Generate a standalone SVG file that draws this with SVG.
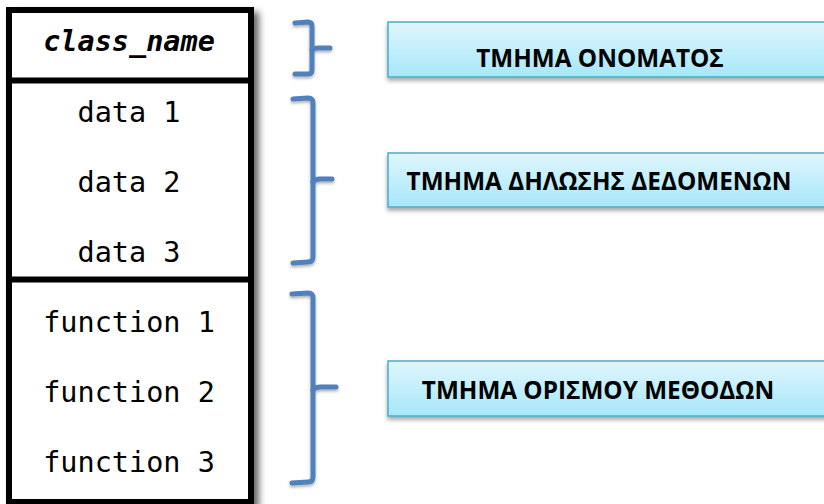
<svg xmlns="http://www.w3.org/2000/svg" width="824" height="504" viewBox="0 0 824 504">
<defs>
<linearGradient id="lbl" x1="0" y1="0" x2="0" y2="1">
<stop offset="0" stop-color="#e0f6fd"/>
<stop offset="1" stop-color="#a6e7fa"/>
</linearGradient>
<filter id="sh" x="-10%" y="-20%" width="120%" height="160%">
<feDropShadow dx="0" dy="3" stdDeviation="2" flood-color="#000" flood-opacity="0.35"/>
</filter>
<filter id="bsh" x="-10%" y="-10%" width="130%" height="130%">
<feDropShadow dx="5" dy="5" stdDeviation="3.5" flood-color="#000" flood-opacity="0.6"/>
</filter>
<filter id="brsh" x="-50%" y="-10%" width="200%" height="130%">
<feDropShadow dx="0" dy="2" stdDeviation="1.5" flood-color="#000" flood-opacity="0.3"/>
</filter>
</defs>
<style>
.mono{font-family:"DejaVu Sans Mono","Liberation Mono",monospace;font-size:28.5px;fill:#000;text-anchor:middle}
.cls{font-style:italic;font-weight:bold}
.lbl{fill:url(#lbl);stroke:#4bacc6;stroke-width:1.5}
.lt{font-family:"Open Sans","Liberation Sans",sans-serif;font-weight:bold;font-size:24.3px;fill:#000;text-anchor:middle}
.brace{fill:none;stroke:#4f81bd;stroke-width:5;stroke-linecap:round;stroke-linejoin:round}
</style>
<rect width="824" height="504" fill="#fff"/>
<g id="class-box">
<rect x="9" y="10" width="242" height="492" fill="#fff" stroke="#000" stroke-width="6" filter="url(#bsh)"/>
<line x1="9" y1="80.5" x2="251" y2="80.5" stroke="#000" stroke-width="6"/>
<line x1="9" y1="279.5" x2="251" y2="279.5" stroke="#000" stroke-width="6"/>
<text class="mono cls" x="129" y="51">class_name</text>
<text class="mono" x="129" y="122">data 1</text>
<text class="mono" x="129" y="192">data 2</text>
<text class="mono" x="129" y="262">data 3</text>
<text class="mono" x="129" y="332">function 1</text>
<text class="mono" x="129" y="402">function 2</text>
<text class="mono" x="129" y="472">function 3</text>
</g>
<g id="connectors" filter="url(#brsh)">
<path class="brace" d="M295,23 L308,22 Q312,22 312,26 L312,70 Q312,74 308,74 L295,74"/>
<path class="brace" d="M312,50 Q314,48 318,48 L330,48"/>
<path class="brace" d="M293,99 L308,98 Q313,98 313,103 L313,257 Q313,262 308,262 L293,263"/>
<path class="brace" d="M313,182 Q315,179 320,179 L332,179"/>
<path class="brace" d="M292,294 L308,293 Q313,293 313,298 L313,477 Q313,482 308,482 L292,483"/>
<path class="brace" d="M313,390 Q315,387 321,387 L336,387"/>
</g>
<g id="name-section">
<rect class="lbl" x="388" y="22" width="450" height="55" filter="url(#sh)"/>
<text class="lt" x="600" y="67">ΤΜΗΜΑ ΟΝΟΜΑΤΟΣ</text>
</g>
<g id="data-section">
<rect class="lbl" x="388" y="153" width="450" height="54" filter="url(#sh)"/>
<text class="lt" x="599" y="190">ΤΜΗΜΑ ΔΗΛΩΣΗΣ ΔΕΔΟΜΕΝΩΝ</text>
</g>
<g id="methods-section">
<rect class="lbl" x="388" y="361" width="450" height="55" filter="url(#sh)"/>
<text class="lt" x="598" y="399">ΤΜΗΜΑ ΟΡΙΣΜΟΥ ΜΕΘΟΔΩΝ</text>
</g>
</svg>
